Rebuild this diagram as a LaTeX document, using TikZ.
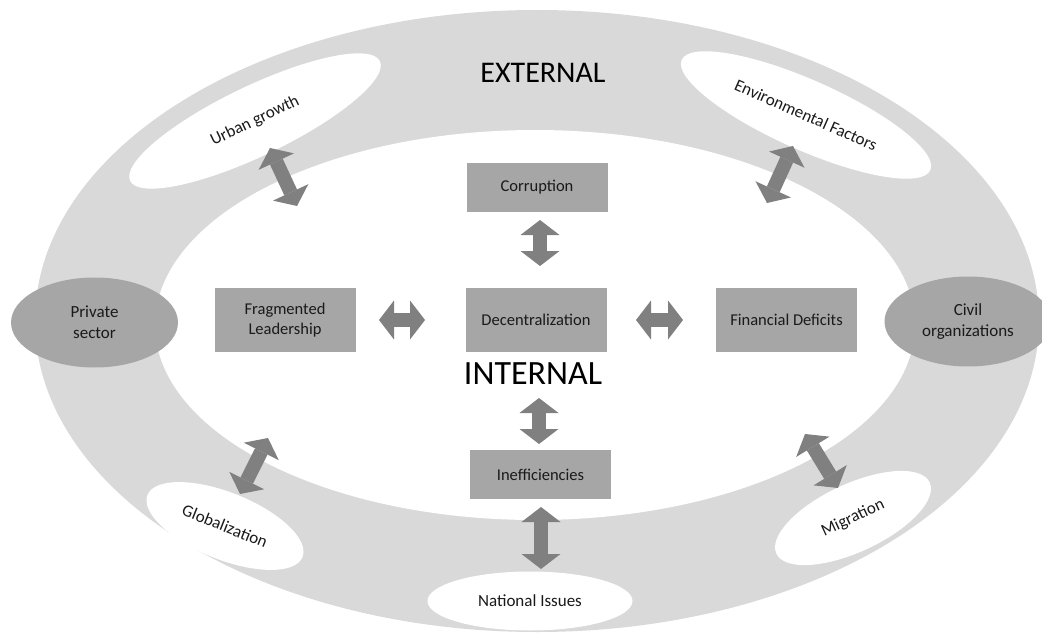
\documentclass[tikz,border=0pt]{standalone}
\usepackage{fontspec}
\setmainfont{Carlito}
\usetikzlibrary{shapes.geometric,arrows.meta}
\definecolor{ringgray}{HTML}{D9D9D9}
\definecolor{boxgray}{HTML}{A6A6A6}
\definecolor{arrgray}{HTML}{808080}
\definecolor{txt}{HTML}{1A1A1A}
\begin{document}
\begin{tikzpicture}[x=1pt,y=-1pt,
  lbl/.style={font=\fontsize{16.5}{20}\selectfont, text=txt, align=center, inner sep=0pt},
  box/.style={lbl, fill=boxgray, minimum width=141pt},
  extell/.style={ellipse, fill=white, lbl, font=\fontsize{17}{20}\selectfont, inner sep=0pt},
  actell/.style={ellipse, fill=boxgray, lbl, font=\fontsize{17}{21}\selectfont, inner sep=0pt, minimum width=167pt, minimum height=90pt},
  bigarrow/.style={draw=arrgray, line width=14pt,
    arrows={Triangle[length=15pt,width=39pt,line width=0pt]-Triangle[length=15pt,width=39pt,line width=0pt]}},
  title/.style={text=black, inner sep=0pt}
]
\useasboundingbox (0,0) rectangle (1042,634);
% rings
\fill[ringgray] (537,321) ellipse [x radius=502, y radius=311];
\fill[white] (535,325) ellipse [x radius=380, y radius=195];

% external factors
\node[extell, minimum width=277pt, minimum height=70pt, rotate=25.6] (urban) at (255,121) {Urban growth};
\node[extell, minimum width=272pt, minimum height=70pt, rotate=-23.9] (env) at (806,115) {Environmental Factors};
\node[extell, minimum width=167pt, minimum height=67pt, rotate=-21.8] (glob) at (225,526) {Globalization};
\node[extell, minimum width=169pt, minimum height=68pt, rotate=24.9] (migr) at (853,518) {Migration};
\node[extell, minimum width=205pt, minimum height=59pt] (nat) at (530,601) {National Issues};

% actors
\node[actell] (priv) at (94.5,322.5) {Private\\sector};
\node[actell] (civil) at (968,321.5) {Civil\\organizations};

% internal boxes
\node[box, minimum height=49pt] (corr) at (537,187.5) {Corruption};
\node[box, minimum height=64pt] (frag) at (285,320) {Fragmented\\Leadership};
\node[box, minimum height=64pt] (dec) at (536,320) {Decentralization};
\node[box, minimum height=64pt] (fin) at (786.5,320) {Financial Deficits};
\node[box, minimum height=49pt] (ineff) at (540.5,474.5) {Inefficiencies};

% titles
\node[title, font=\fontsize{30}{36}\selectfont] (ext) at (543,73) {EXTERNAL};
\node[title, font=\fontsize{34}{40}\selectfont] (int) at (533,374) {INTERNAL};

% arrow end points
\coordinate (a1s) at (540,220); \coordinate (a1e) at (540,266);
\coordinate (a2s) at (379,320); \coordinate (a2e) at (425,320);
\coordinate (a3s) at (636,320); \coordinate (a3e) at (683,320);
\coordinate (a4s) at (539,398); \coordinate (a4e) at (539,444);
\coordinate (a5s) at (541,507); \coordinate (a5e) at (541,569);
\coordinate (a6s) at (270,148); \coordinate (a6e) at (297,206);
\coordinate (a7s) at (793,146); \coordinate (a7e) at (767,203);
\coordinate (a8s) at (268,438); \coordinate (a8e) at (240,494);
\coordinate (a9s) at (805,434); \coordinate (a9e) at (838,488);

\draw[bigarrow] (a1s) -- (a1e);
\draw[bigarrow] (a2s) -- (a2e);
\draw[bigarrow] (a3s) -- (a3e);
\draw[bigarrow] (a4s) -- (a4e);
\draw[bigarrow] (a5s) -- (a5e);
\draw[bigarrow] (a6s) -- (a6e);
\draw[bigarrow] (a7s) -- (a7e);
\draw[bigarrow] (a8s) -- (a8e);
\draw[bigarrow] (a9s) -- (a9e);
\end{tikzpicture}
\end{document}
